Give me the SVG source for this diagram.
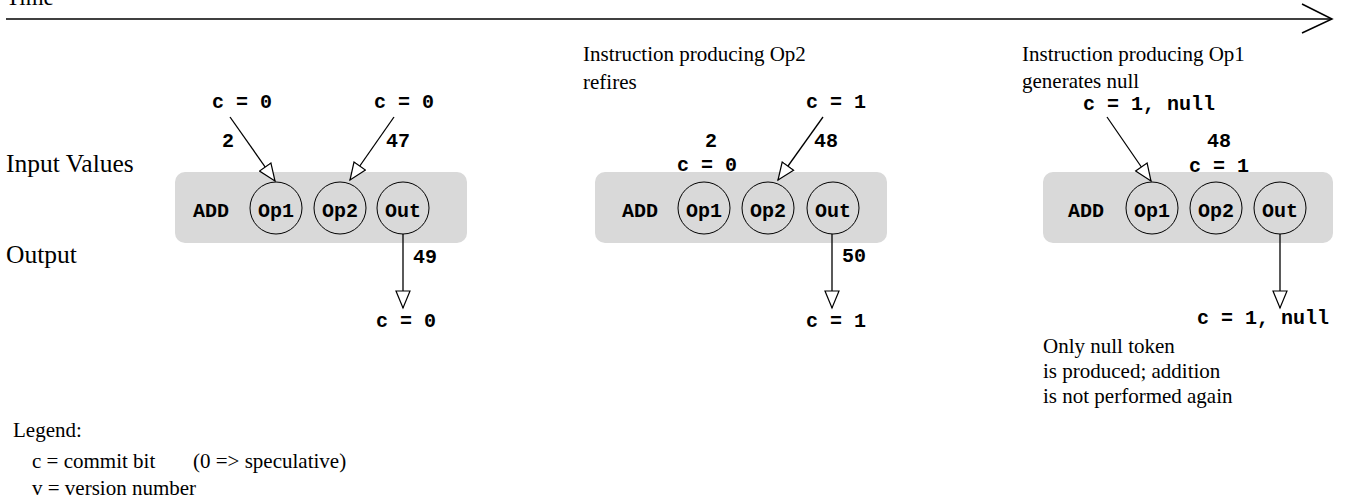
<svg xmlns="http://www.w3.org/2000/svg" width="1347" height="500" viewBox="0 0 1347 500">
<style>
.serif{font-family:"Liberation Serif","Times New Roman",serif;fill:#000}
.mono{font-family:"Liberation Mono","Courier New",monospace;font-weight:bold;font-size:20px;fill:#000}
.panel{fill:#d9d9d9;stroke:none}
.port{fill:none;stroke:#000;stroke-width:1}
.wire{fill:none;stroke:#000;stroke-width:1.3}
.lbl{text-anchor:middle}
</style>
<defs>
<marker id="ah" markerUnits="userSpaceOnUse" markerWidth="20" markerHeight="16" refX="17" refY="7" orient="auto" viewBox="-1 -1 20 16">
<path d="M0,0 L17,7 L0,14 Z" fill="#fff" stroke="#000" stroke-width="1.2"/>
</marker>
</defs>

<g id="timeline">
<text class="serif" x="6" y="5" font-size="23">Time</text>
<line x1="6" y1="19" x2="1332" y2="19" stroke="#000" stroke-width="1.5"/>
<polyline points="1302,4 1332,19 1302,33" fill="none" stroke="#000" stroke-width="1.5"/>
</g>

<g id="row-labels">
<text class="serif" x="6" y="172" font-size="25.5">Input Values</text>
<text class="serif" x="6" y="263" font-size="25.5">Output</text>
</g>

<g id="panel1">
<rect class="panel" x="175" y="172" width="292" height="71" rx="10"/>
<text class="mono" x="193" y="217">ADD</text>
<circle class="port" cx="276" cy="208" r="26"/>
<circle class="port" cx="340" cy="208" r="26"/>
<circle class="port" cx="403" cy="208" r="26"/>
<text class="mono lbl" x="276" y="217">Op1</text>
<text class="mono lbl" x="340" y="217">Op2</text>
<text class="mono lbl" x="403" y="217">Out</text>
<text class="mono" x="212" y="108">c = 0</text>
<text class="mono" x="374" y="108">c = 0</text>
<text class="mono" x="222" y="147">2</text>
<text class="mono" x="386" y="147">47</text>
<text class="mono" x="413" y="263">49</text>
<text class="mono" x="376" y="327">c = 0</text>
</g>

<g id="panel2">
<text class="serif" x="583" y="61" font-size="21">Instruction producing Op2</text>
<text class="serif" x="583" y="89" font-size="21">refires</text>
<rect class="panel" x="595" y="172" width="292" height="71" rx="10"/>
<text class="mono" x="622" y="217">ADD</text>
<circle class="port" cx="704" cy="208" r="26"/>
<circle class="port" cx="768" cy="208" r="26"/>
<circle class="port" cx="833" cy="208" r="26"/>
<text class="mono lbl" x="704" y="217">Op1</text>
<text class="mono lbl" x="768" y="217">Op2</text>
<text class="mono lbl" x="833" y="217">Out</text>
<text class="mono" x="806" y="108">c = 1</text>
<text class="mono" x="705" y="147">2</text>
<text class="mono" x="814" y="147">48</text>
<text class="mono" x="677" y="171">c = 0</text>
<text class="mono" x="842" y="262">50</text>
<text class="mono" x="806" y="327">c = 1</text>
</g>

<g id="panel3">
<text class="serif" x="1022" y="61" font-size="21">Instruction producing Op1</text>
<text class="serif" x="1022" y="88" font-size="21">generates null</text>
<rect class="panel" x="1043" y="172" width="290" height="71" rx="10"/>
<text class="mono" x="1068" y="217">ADD</text>
<circle class="port" cx="1152" cy="208" r="26"/>
<circle class="port" cx="1216" cy="208" r="26"/>
<circle class="port" cx="1280" cy="208" r="26"/>
<text class="mono lbl" x="1152" y="217">Op1</text>
<text class="mono lbl" x="1216" y="217">Op2</text>
<text class="mono lbl" x="1280" y="217">Out</text>
<text class="mono" x="1083" y="110">c = 1, null</text>
<text class="mono" x="1207" y="147">48</text>
<text class="mono" x="1189" y="172">c = 1</text>
<text class="mono" x="1197" y="324">c = 1, null</text>
<text class="serif" x="1043" y="353" font-size="21">Only null token</text>
<text class="serif" x="1043" y="378" font-size="21">is produced; addition</text>
<text class="serif" x="1043" y="403" font-size="21">is not performed again</text>
</g>

<g id="connectors">
<line class="wire" x1="230" y1="117" x2="275" y2="181" marker-end="url(#ah)"/>
<line class="wire" x1="394" y1="117" x2="350" y2="180" marker-end="url(#ah)"/>
<line class="wire" x1="403" y1="234" x2="403" y2="308" marker-end="url(#ah)"/>
<line class="wire" x1="823" y1="117" x2="778" y2="180" marker-end="url(#ah)"/>
<line class="wire" x1="832" y1="234" x2="832" y2="308" marker-end="url(#ah)"/>
<line class="wire" x1="1107" y1="117" x2="1151" y2="181" marker-end="url(#ah)"/>
<line class="wire" x1="1280" y1="234" x2="1280" y2="308" marker-end="url(#ah)"/>
</g>

<g id="legend">
<text class="serif" x="13" y="437" font-size="21">Legend:</text>
<text class="serif" x="32" y="468" font-size="21">c = commit bit</text>
<text class="serif" x="193" y="468" font-size="21">(0 =&gt; speculative)</text>
<text class="serif" x="32" y="495" font-size="21">v = version number</text>
</g>
</svg>
